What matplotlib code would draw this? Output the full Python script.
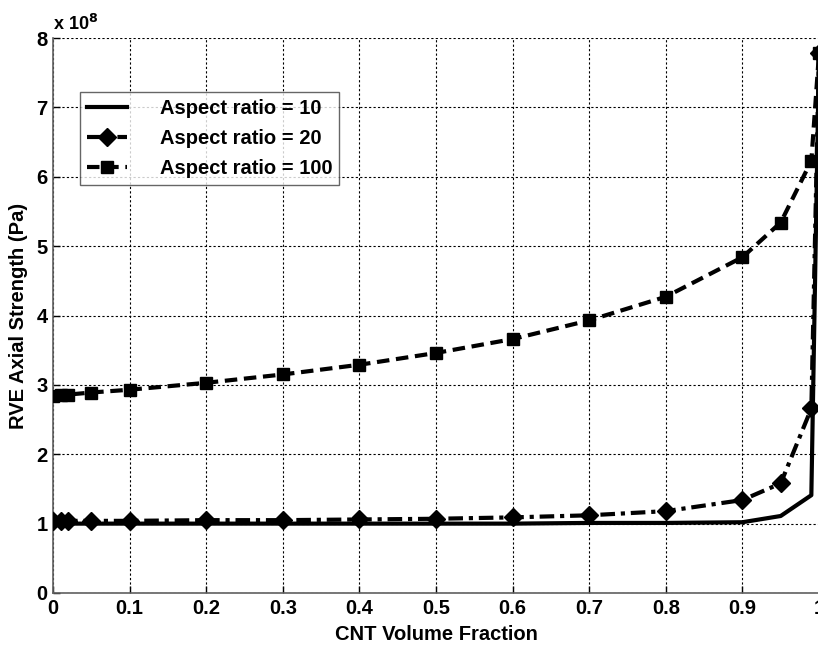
import matplotlib
matplotlib.use("Agg")
import matplotlib.pyplot as plt

plt.rcParams['font.family'] = ['Liberation Sans', 'DejaVu Sans']
plt.rcParams['font.weight'] = 'bold'

vf = [0, 0.01, 0.02, 0.05, 0.1, 0.2, 0.3, 0.4, 0.5, 0.6, 0.7, 0.8, 0.9, 0.95, 0.99, 1.0]
ar10 = [1.00, 1.00, 1.00, 1.00, 1.00, 1.00, 1.00, 1.00, 1.00, 1.00, 1.01, 1.01, 1.02, 1.11, 1.41, 7.78]
ar20 = [1.04, 1.04, 1.04, 1.04, 1.04, 1.05, 1.05, 1.06, 1.07, 1.09, 1.12, 1.18, 1.34, 1.58, 2.66, 7.78]
ar100 = [2.84, 2.85, 2.86, 2.89, 2.93, 3.03, 3.15, 3.29, 3.46, 3.66, 3.93, 4.27, 4.84, 5.34, 6.23, 7.78]
labels = ['Aspect ratio = 10', 'Aspect ratio = 20', 'Aspect ratio = 100']
xticks = [0, 0.1, 0.2, 0.3, 0.4, 0.5, 0.6, 0.7, 0.8, 0.9, 1]
xticklabels = ['0', '0.1', '0.2', '0.3', '0.4', '0.5', '0.6', '0.7', '0.8', '0.9', '1']
yticks = [0, 1, 2, 3, 4, 5, 6, 7, 8]

fig = plt.figure(figsize=(8.18, 6.45), dpi=100)
ax = fig.add_axes([53/818, 52/645, 766/818, 555/645])

ax.plot(vf, ar10, color='black', lw=3.0, ls='-', label=labels[0], zorder=3)
l2, = ax.plot(vf, ar20, color='black', lw=3.0, ls='-.', marker='D', markersize=9.5,
              label=labels[1], zorder=3)
l2.set_dashes([3.5, 1.4, 1, 1.4])
l3, = ax.plot(vf, ar100, color='black', lw=3.0, ls='--', marker='s', markersize=8.5,
              label=labels[2], zorder=3)
l3.set_dashes([3, 1.6])

ax.set_xlim(0, 1)
ax.set_ylim(0, 8)
ax.set_xticks(xticks)
ax.set_xticklabels(xticklabels)
ax.set_yticks(yticks)
ax.tick_params(direction='in', length=5, width=1, colors='black', labelsize=14.5, pad=4)
for s in ['top', 'right']:
    ax.spines[s].set_visible(False)
for s in ['left', 'bottom']:
    ax.spines[s].set_color('#606060')
    ax.spines[s].set_linewidth(1.2)
ax.grid(True, ls=(0, (2, 2)), color='black', lw=0.8)
ax.set_axisbelow(True)

ax.set_xlabel('CNT Volume Fraction', fontsize=14.5, fontweight='bold', labelpad=5)
ax.set_ylabel('RVE Axial Strength (Pa)', fontsize=14.5, fontweight='bold', labelpad=6)
ax.text(0.0, 1.008, r'x 10$^{8}$', transform=ax.transAxes, fontsize=13,
        fontweight='bold', ha='left', va='bottom')

leg = ax.legend(loc='upper left', bbox_to_anchor=(27/766, 1 - 54/555), fontsize=14.5,
                frameon=True, fancybox=False, edgecolor='#404040', handlelength=2.0,
                handletextpad=1.6, borderpad=0.35, labelspacing=0.55, borderaxespad=0)
leg.get_frame().set_linewidth(1.0)
for t in leg.get_texts():
    t.set_fontweight('bold')

fig.savefig('out.png', dpi=100)
